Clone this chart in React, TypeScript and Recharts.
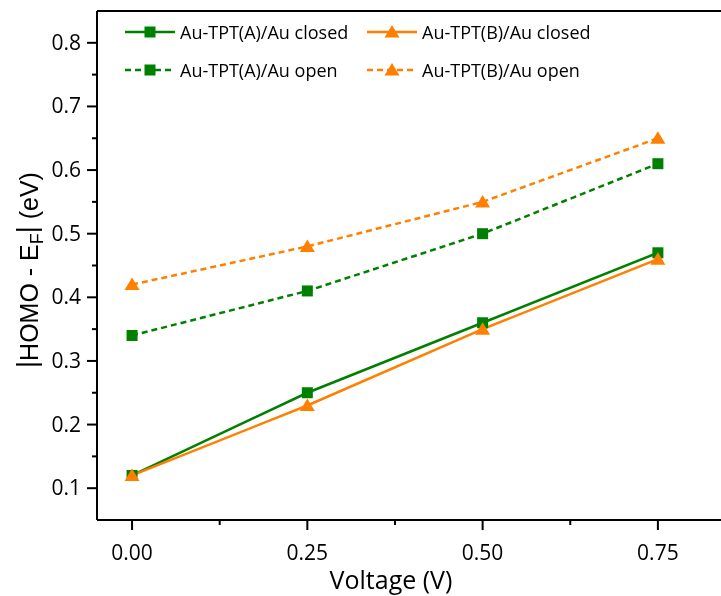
import { LineChart, Line, XAxis, YAxis, ReferenceLine } from "recharts";

// voltage steps (V)
const voltages = [0, 0.25, 0.5, 0.75];

// |HOMO - E_F| (eV)
const aClosed = [0.12, 0.25, 0.36, 0.47];
const bClosed = [0.12, 0.23, 0.35, 0.46];
const aOpen = [0.34, 0.41, 0.5, 0.61];
const bOpen = [0.42, 0.48, 0.55, 0.65];

const xMajor = [0, 0.25, 0.5, 0.75];
const xMinor = [0.125, 0.375, 0.625];
const yMajor = [0.1, 0.2, 0.3, 0.4, 0.5, 0.6, 0.7, 0.8];
const yMinor = [0.15, 0.25, 0.35, 0.45, 0.55, 0.65, 0.75];

const GREEN = "#008000";
const ORANGE = "#ff8000";
const FONT = "'Open Sans', 'DejaVu Sans', sans-serif";

const data = voltages.map((v, i) => ({
  v,
  aClosed: aClosed[i],
  bClosed: bClosed[i],
  aOpen: aOpen[i],
  bOpen: bOpen[i],
}));

const series = [
  { key: "aClosed", name: "Au-TPT(A)/Au closed", color: GREEN, dashed: false, shape: "square" },
  { key: "bClosed", name: "Au-TPT(B)/Au closed", color: ORANGE, dashed: false, shape: "triangle" },
  { key: "aOpen", name: "Au-TPT(A)/Au open", color: GREEN, dashed: true, shape: "square" },
  { key: "bOpen", name: "Au-TPT(B)/Au open", color: ORANGE, dashed: true, shape: "triangle" },
];

function Marker({ cx, cy, color, shape }: any) {
  if (cx == null || cy == null) return null;
  if (shape === "square") {
    return <rect x={cx - 5.5} y={cy - 5.5} width={11} height={11} fill={color} />;
  }
  return (
    <polygon
      points={`${cx},${cy - 7} ${cx - 7.5},${cy + 5.5} ${cx + 7.5},${cy + 5.5}`}
      fill={color}
    />
  );
}

// y ticks: drawn by hand so minor ticks can be shorter
function YTick(props: any) {
  const { x, y, payload } = props;
  const axisX = x + 16;
  const major = yMajor.some((t) => Math.abs(t - payload.value) < 1e-6);
  return (
    <g>
      <line x1={axisX - (major ? 10 : 5)} x2={axisX} y1={y} y2={y} stroke="#000" strokeWidth={2} />
      {major && (
        <text x={x} y={y} dy={7} textAnchor="end" fontSize={21} fontFamily={FONT} fill="#000">
          {payload.value.toFixed(1)}
        </text>
      )}
    </g>
  );
}

function XTick(props: any) {
  const { x, y, payload } = props;
  const axisY = y - 18;
  const major = xMajor.some((t) => Math.abs(t - payload.value) < 1e-6);
  return (
    <g>
      <line x1={x} x2={x} y1={axisY} y2={axisY + (major ? 10 : 5)} stroke="#000" strokeWidth={2} />
      {major && (
        <text x={x} y={y} dy={22} textAnchor="middle" fontSize={21} fontFamily={FONT} fill="#000">
          {payload.value.toFixed(2)}
        </text>
      )}
    </g>
  );
}

function YLabel() {
  return (
    <text
      x={30}
      y={262}
      transform="rotate(-90 30 262)"
      textAnchor="middle"
      fontSize={25}
      fontFamily="'Liberation Sans', Arial, sans-serif"
      fill="#000"
    >
      <tspan fontSize={27} dy={-2}>|</tspan>
      <tspan dy={2}>HOMO - E</tspan>
      <tspan fontSize={18} dy={5}>F</tspan>
      <tspan fontSize={27} dy={-7}>|</tspan>
      <tspan dy={2}> (eV)</tspan>
    </text>
  );
}

function XLabel() {
  return (
    <text x={383} y={581} textAnchor="middle" fontSize={25} fontFamily={FONT} fill="#000">
      Voltage (V)
    </text>
  );
}

function LegendBox() {
  return (
    <div
      style={{
        position: "absolute",
        left: 117,
        top: 5,
        display: "grid",
        gridTemplateColumns: "242px 242px",
        fontFamily: FONT,
        fontSize: 18,
        color: "#000",
        pointerEvents: "none",
      }}
    >
      {series.map((s) => (
        <div key={s.key} style={{ display: "flex", alignItems: "center", height: 38 }}>
          <svg width={50} height={20} style={{ marginRight: 5, flex: "none" }}>
            <line
              x1={0}
              x2={50}
              y1={10}
              y2={10}
              stroke={s.color}
              strokeWidth={2.5}
              strokeDasharray={s.dashed ? "6 4" : undefined}
            />
            <Marker cx={25} cy={10} color={s.color} shape={s.shape} />
          </svg>
          <span style={{ whiteSpace: "nowrap" }}>{s.name}</span>
        </div>
      ))}
    </div>
  );
}

export default function App() {
  // fixed frame the size of the window, so the wide chart is cropped without scrollbars
  return (
    <div style={{ position: "fixed", left: 0, top: 0, width: 721, height: 596, overflow: "hidden" }}>
      <div style={{ position: "absolute", left: 8, top: 8 }}>
        <LineChart width={730} height={588} data={data} margin={{ top: 3, right: 10, bottom: 0, left: 0 }}>
          <XAxis
            dataKey="v"
            type="number"
            domain={[-0.05, 0.85]}
            ticks={[...xMajor, ...xMinor]}
            interval={0}
            height={76}
            tickSize={10}
            tickMargin={8}
            tickLine={false}
            tick={<XTick />}
            axisLine={{ stroke: "#000", strokeWidth: 2 }}
            label={<XLabel />}
          />
          <YAxis
            type="number"
            domain={[0.05, 0.85]}
            ticks={[...yMajor, ...yMinor]}
            interval={0}
            width={89}
            tickSize={10}
            tickMargin={6}
            tickLine={false}
            tick={<YTick />}
            axisLine={{ stroke: "#000", strokeWidth: 2 }}
            label={<YLabel />}
          />
          <ReferenceLine y={0.85} stroke="#000" strokeWidth={2} ifOverflow="visible" />
          {series.map((s) => (
            <Line
              key={s.key}
              dataKey={s.key}
              name={s.name}
              stroke={s.color}
              strokeWidth={2.5}
              strokeDasharray={s.dashed ? "6 4" : undefined}
              dot={(p: any) => <Marker key={`${s.key}-${p.index}`} cx={p.cx} cy={p.cy} color={s.color} shape={s.shape} />}
              activeDot={false}
              isAnimationActive={false}
            />
          ))}
        </LineChart>
        <LegendBox />
      </div>
    </div>
  );
}
